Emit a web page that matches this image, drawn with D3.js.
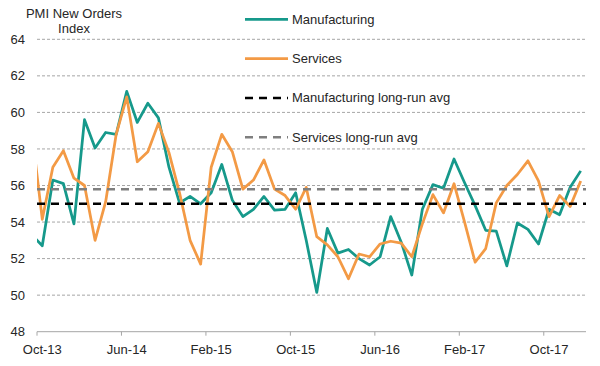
<!DOCTYPE html>
<html><head><meta charset="utf-8">
<script src="https://cdn.jsdelivr.net/npm/d3@7"></script>
<style>
body{margin:0;background:#fff}
svg{display:block}
text{font-family:"Liberation Sans",Arial,sans-serif;fill:#262626;font-size:13px}
</style>
</head><body><svg id="c" width="600" height="366"></svg>
<script>
// Monthly data, Sep-13 (partly clipped at the left edge) to Jan-18
const months = ["Sep-13","Oct-13","Nov-13","Dec-13","Jan-14","Feb-14","Mar-14","Apr-14","May-14","Jun-14","Jul-14","Aug-14","Sep-14",
  "Oct-14","Nov-14","Dec-14","Jan-15","Feb-15","Mar-15","Apr-15","May-15","Jun-15","Jul-15","Aug-15","Sep-15",
  "Oct-15","Nov-15","Dec-15","Jan-16","Feb-16","Mar-16","Apr-16","May-16","Jun-16","Jul-16","Aug-16","Sep-16",
  "Oct-16","Nov-16","Dec-16","Jan-17","Feb-17","Mar-17","Apr-17","May-17","Jun-17","Jul-17","Aug-17","Sep-17",
  "Oct-17","Nov-17","Dec-17","Jan-18"];
const manufacturing = [53.3,52.7,56.3,56.1,53.9,59.6,58.05,58.9,58.8,61.15,59.45,60.5,59.7,
  57.0,55.05,55.4,55.0,55.6,57.15,55.2,54.3,54.7,55.4,54.65,54.7,
  55.6,53.0,50.15,53.65,52.3,52.5,52.0,51.65,52.1,54.3,52.9,51.1,
  54.7,56.05,55.85,57.45,56.15,54.9,53.55,53.5,51.6,53.95,53.6,52.8,
  54.7,54.4,55.9,56.8];
const services = [59.0,54.15,57.0,57.9,56.4,56.0,53.0,55.1,58.8,60.85,57.3,57.85,59.4,
  57.8,55.6,53.0,51.7,57.0,58.8,57.85,55.8,56.3,57.4,55.8,55.45,
  54.7,55.9,53.2,52.75,52.1,50.9,52.25,52.1,52.8,52.95,52.85,52.1,
  53.9,55.5,54.5,56.1,54.0,51.8,52.55,55.05,56.0,56.6,57.35,56.25,
  54.3,55.45,54.85,56.25];
const manufacturingAvg = 55.0;
const servicesAvg = 55.8;
const yTicks = [48,50,52,54,56,58,60,62,64];
const xTickLabels = ["Oct-13","Jun-14","Feb-15","Oct-15","Jun-16","Feb-17","Oct-17"];
const titleLines = ["PMI New Orders","Index"];
const legendItems = [
  {label:"Manufacturing", color:"#16998b", dash:null},
  {label:"Services", color:"#f39a45", dash:null},
  {label:"Manufacturing long-run avg", color:"#000000", dash:"8,6"},
  {label:"Services long-run avg", color:"#7f7f7f", dash:"8,6"}
];

const svg = d3.select("#c");
const pLeft = 37, pRight = 586, pTop = 39.3, pBottom = 331.7;
const firstShown = months.indexOf("Oct-13");
const nCats = months.length - firstShown;
const x = d3.scaleLinear().domain([0, nCats]).range([pLeft, pRight]);
const y = d3.scaleLinear().domain([48, 64]).range([pBottom, pTop]);
const xPos = i => x(i - firstShown + 0.5);

// gridlines
svg.append("g").selectAll("line").data(yTicks.filter(t => t !== 48)).join("line")
  .attr("x1", pLeft).attr("x2", pRight)
  .attr("y1", d => y(d)).attr("y2", d => y(d))
  .attr("stroke", "#a6a6a6").attr("stroke-width", 1).attr("stroke-dasharray", "3,2");

// y labels
svg.append("g").selectAll("text").data(yTicks).join("text")
  .attr("x", 25).attr("y", d => y(d)).attr("dy", "0.35em")
  .attr("text-anchor", "end").text(d => d);

// x axis
svg.append("line").attr("x1", pLeft).attr("x2", pRight)
  .attr("y1", pBottom).attr("y2", pBottom).attr("stroke", "#a6a6a6").attr("stroke-width", 1);
const tickIdx = xTickLabels.map(l => months.indexOf(l));
svg.append("g").selectAll("line").data(tickIdx).join("line")
  .attr("x1", d => x(d - firstShown)).attr("x2", d => x(d - firstShown))
  .attr("y1", pBottom).attr("y2", pBottom + 4).attr("stroke", "#a6a6a6");
svg.append("g").selectAll("text").data(xTickLabels).join("text")
  .attr("x", l => xPos(months.indexOf(l))).attr("y", 349).attr("dy", "0.35em")
  .attr("text-anchor", "middle").text(l => l);

// title
svg.append("g").selectAll("text").data(titleLines).join("text")
  .attr("x", 74).attr("y", (d, i) => 13 + i * 15).attr("dy", "0.35em")
  .attr("text-anchor", "middle").text(d => d);

// clip
svg.append("clipPath").attr("id", "clip").append("rect")
  .attr("x", pLeft).attr("y", 0).attr("width", pRight - pLeft).attr("height", 366);

const line = d3.line().x((d, i) => xPos(i)).y(d => y(d));
const plot = svg.append("g").attr("clip-path", "url(#clip)");
plot.append("path").datum(manufacturing).attr("d", line)
  .attr("fill", "none").attr("stroke", legendItems[0].color).attr("stroke-width", 2.75).attr("stroke-linejoin", "round");
plot.append("path").datum(services).attr("d", line)
  .attr("fill", "none").attr("stroke", legendItems[1].color).attr("stroke-width", 2.75).attr("stroke-linejoin", "round");

// long-run averages
[[manufacturingAvg, legendItems[2]], [servicesAvg, legendItems[3]]].forEach(([v, it]) => {
  svg.append("line").attr("x1", pLeft).attr("x2", pRight).attr("y1", y(v)).attr("y2", y(v))
    .attr("stroke", it.color).attr("stroke-width", 2.5).attr("stroke-dasharray", it.dash);
});

// legend
const lg = svg.append("g").selectAll("g").data(legendItems).join("g")
  .attr("transform", (d, i) => `translate(0,${19.3 + i * 39.3})`);
lg.append("line").attr("x1", 245).attr("x2", 288).attr("y1", 0).attr("y2", 0)
  .attr("stroke", d => d.color).attr("stroke-width", d => d.dash ? 2.5 : 2.75)
  .attr("stroke-dasharray", d => d.dash);
lg.append("text").attr("x", 292).attr("y", 0).attr("dy", "0.35em").text(d => d.label);
</script>
</body></html>
